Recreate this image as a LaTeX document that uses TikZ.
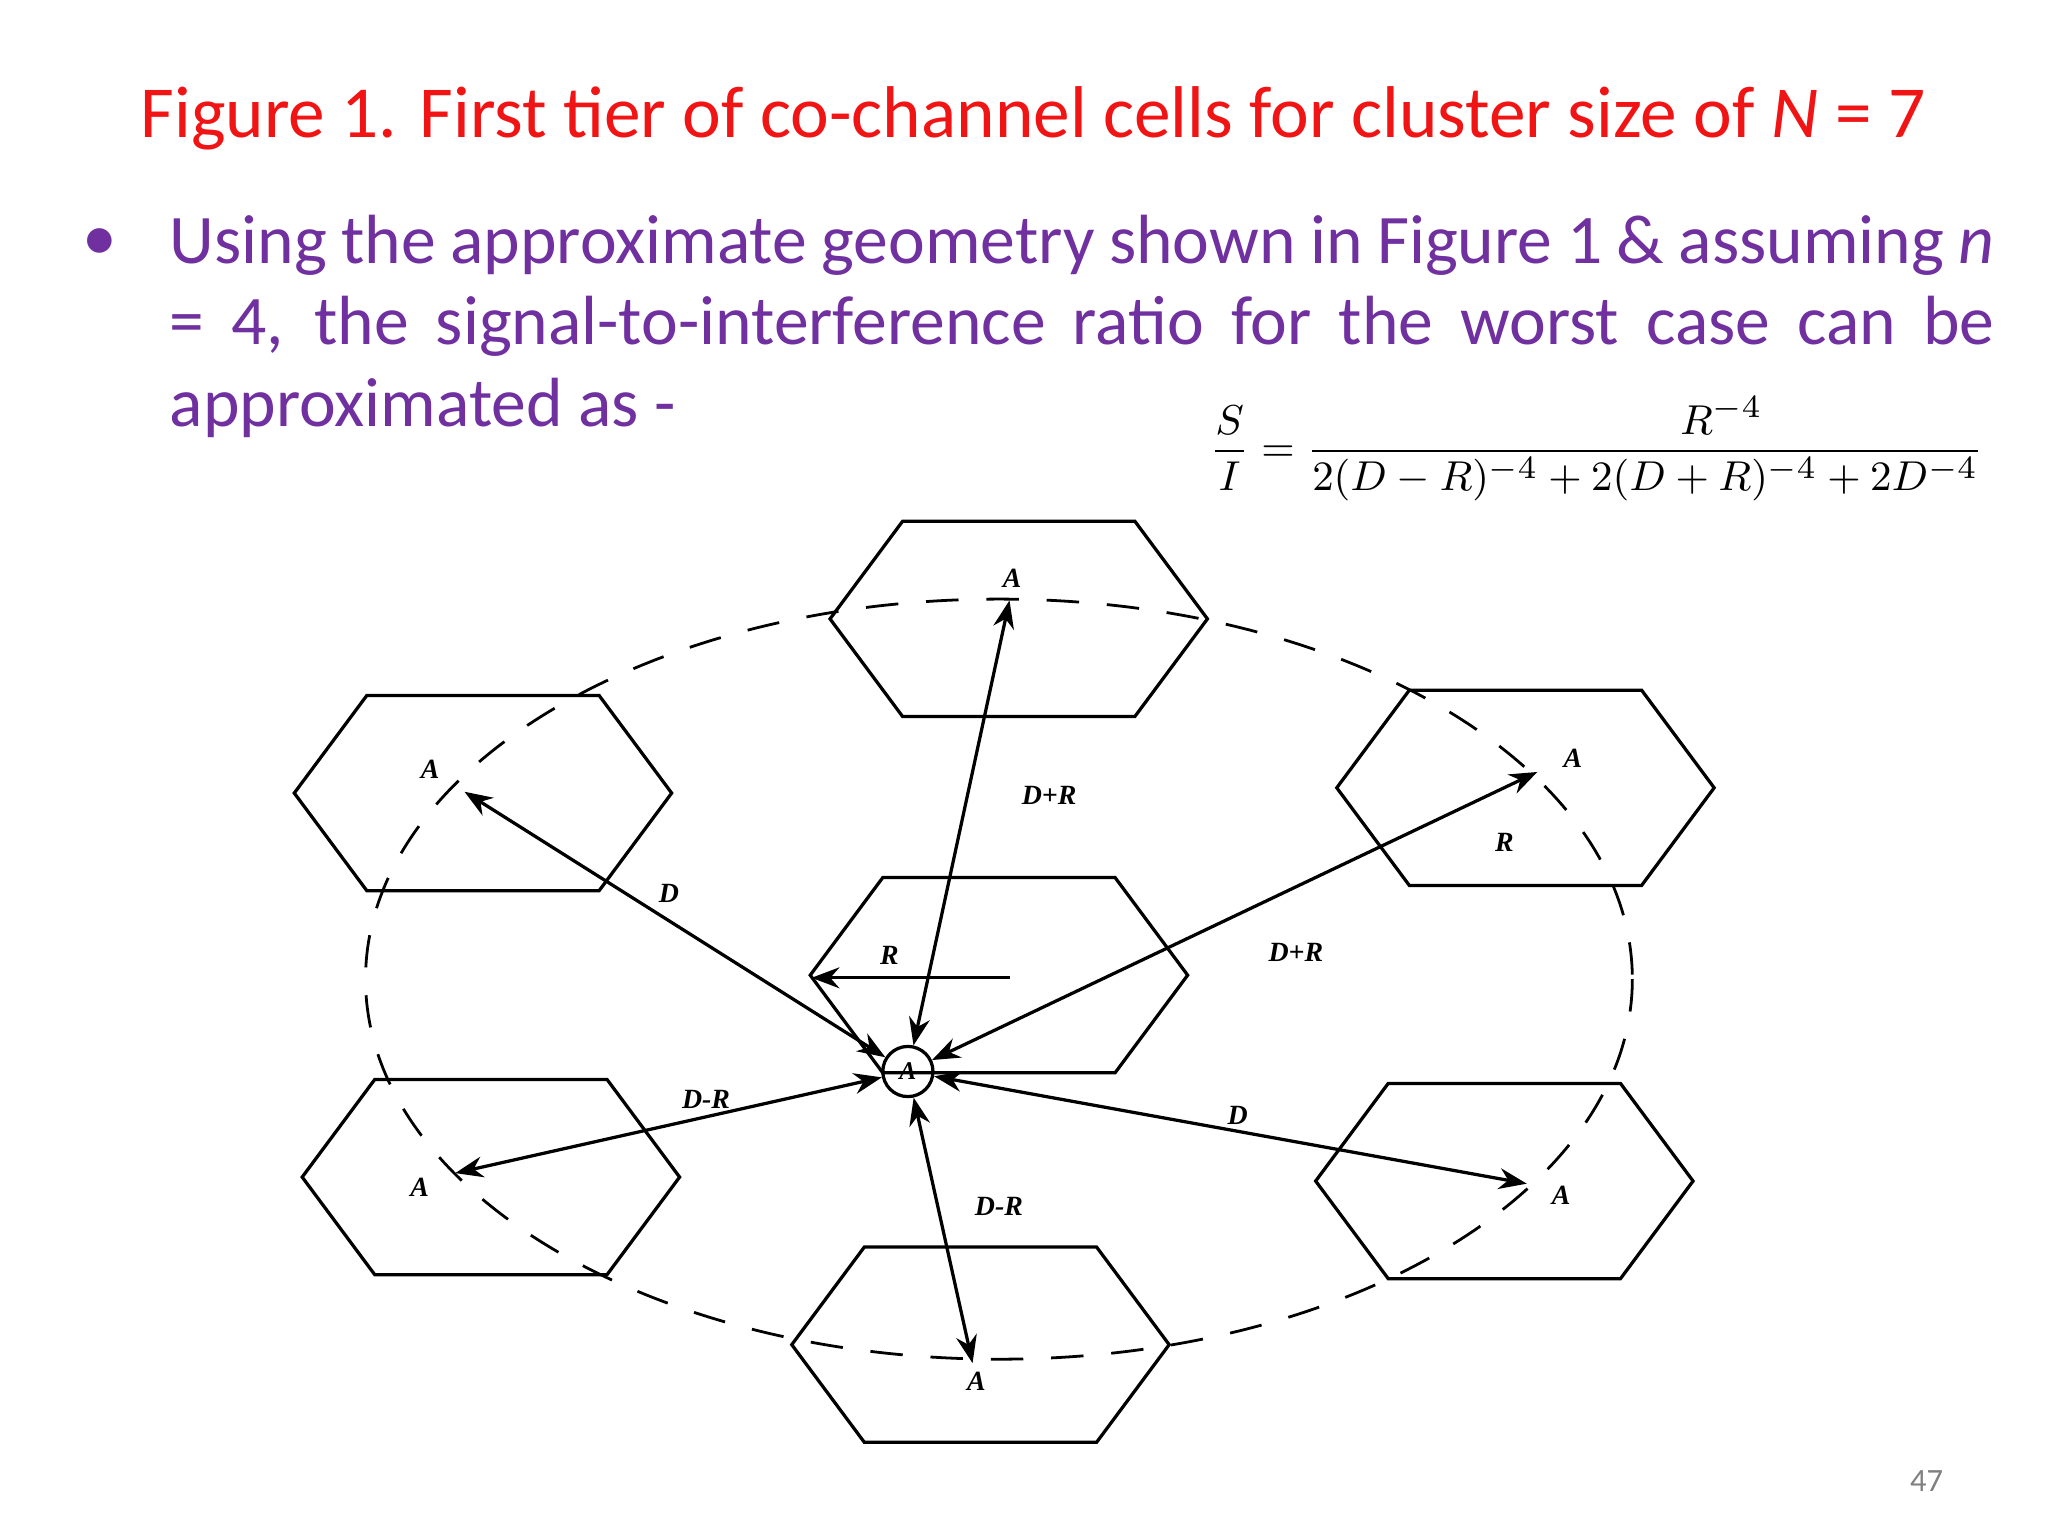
\documentclass[tikz,border=0pt]{standalone}
\usepackage{fontspec}
\setmainfont{Carlito}
\newfontfamily\lblfont{Liberation Serif}
\usetikzlibrary{arrows.meta}
\definecolor{ttlred}{RGB}{240,20,20}
\definecolor{bulpurple}{RGB}{112,48,160}
\tikzset{
  hexcell/.style={draw=black, line width=0.7pt},
  lbl/.style={font=\lblfont\bfseries\itshape\fontsize{6}{7}\selectfont, inner sep=1pt},
  link/.style={line width=0.7pt, {Stealth[length=6pt,width=4.5pt]}-{Stealth[length=6pt,width=4.5pt]}},
}
\newcommand{\hexat}[2]{\draw[hexcell] (#1-143,#2) -- (#1-88,#2-74) -- (#1+88,#2-74) -- (#1+143,#2) -- (#1+88,#2+74) -- (#1-88,#2+74) -- cycle;}
\begin{document}
\begin{tikzpicture}[x=0.01cm,y=-0.01cm]
\useasboundingbox[fill=white] (0,0) rectangle (1552,1164);
\node[text=ttlred, font=\fontsize{15.8}{19}\selectfont] (title) at (783,90) {Figure 1. First tier of co-channel cells for cluster size of \textit{N} = 7};
\node[text=bulpurple, font=\fontsize{15}{19}\selectfont] (bul) at (76,185) {•};
\node[text=bulpurple, font=\fontsize{15}{17.6}\selectfont, anchor=north west, inner sep=0pt, text width=13.82cm, align=justify] (btxt) at (128,162) {\hyphenpenalty=10000 Using the approximate geometry shown in Figure 1 \& assuming \textit{n}\linebreak = 4, the signal-to-interference ratio for the worst case can be\linebreak approximated as -};
\node[font=\fontsize{9.5}{11}\selectfont] (formula) at (1210,340) {$\displaystyle \frac{S}{I} = \frac{\phantom{MMMMMMMM}R^{-4}\hfill}{2(D-R)^{-4}+2(D+R)^{-4}+2D^{-4}}$};
% ellipse
\draw[dash pattern=on 7pt off 6pt, line width=0.6pt] (757,742) ellipse [x radius=480, y radius=288];
% hexagons
\hexat{772}{469}
\hexat{366}{601}
\hexat{1156}{597}
\hexat{757}{739}
\hexat{372}{892}
\hexat{1140}{895}
\hexat{743}{1019}
% center
\node[draw, circle, line width=0.7pt, inner sep=0pt, minimum size=0.38cm, font=\lblfont\bfseries\itshape\fontsize{5.5}{6}\selectfont] (c) at (688,812) {A};
\coordinate (pt) at (765,455);
\coordinate (pul) at (352,600);
\coordinate (pur) at (1165,585);
\coordinate (pll) at (345,889);
\coordinate (plr) at (1157,897);
\coordinate (pb) at (737,1033);
\draw[link] (c) -- (pt);
\draw[link] (c) -- (pul);
\draw[link] (c) -- (pur);
\draw[link] (c) -- (pll);
\draw[link] (c) -- (plr);
\draw[link] (c) -- (pb);
\coordinate (rs) at (765,741);
\coordinate (re) at (615,741);
\draw[line width=0.7pt, -{Stealth[length=6pt,width=4.5pt]}] (rs) -- (re);
% A labels
\node[lbl] (at) at (767,438) {A};
\node[lbl] (aul) at (326,583) {A};
\node[lbl] (aur) at (1192,575) {A};
\node[lbl] (all) at (318,900) {A};
\node[lbl] (alr) at (1183,906) {A};
\node[lbl] (ab) at (740,1047) {A};
% distance labels
\node[lbl] (l1) at (795,603) {D+R};
\node[lbl] (l2) at (507,677) {D};
\node[lbl] (l3) at (1140,638) {R};
\node[lbl] (l4) at (982,722) {D+R};
\node[lbl] (l5) at (674,724) {R};
\node[lbl] (l6) at (535,833) {D-R};
\node[lbl] (l7) at (938,845) {D};
\node[lbl] (l8) at (757,914) {D-R};
\node[text=gray, font=\fontsize{7}{8}\selectfont] (pg) at (1460,1122) {47};
\end{tikzpicture}
\end{document}
